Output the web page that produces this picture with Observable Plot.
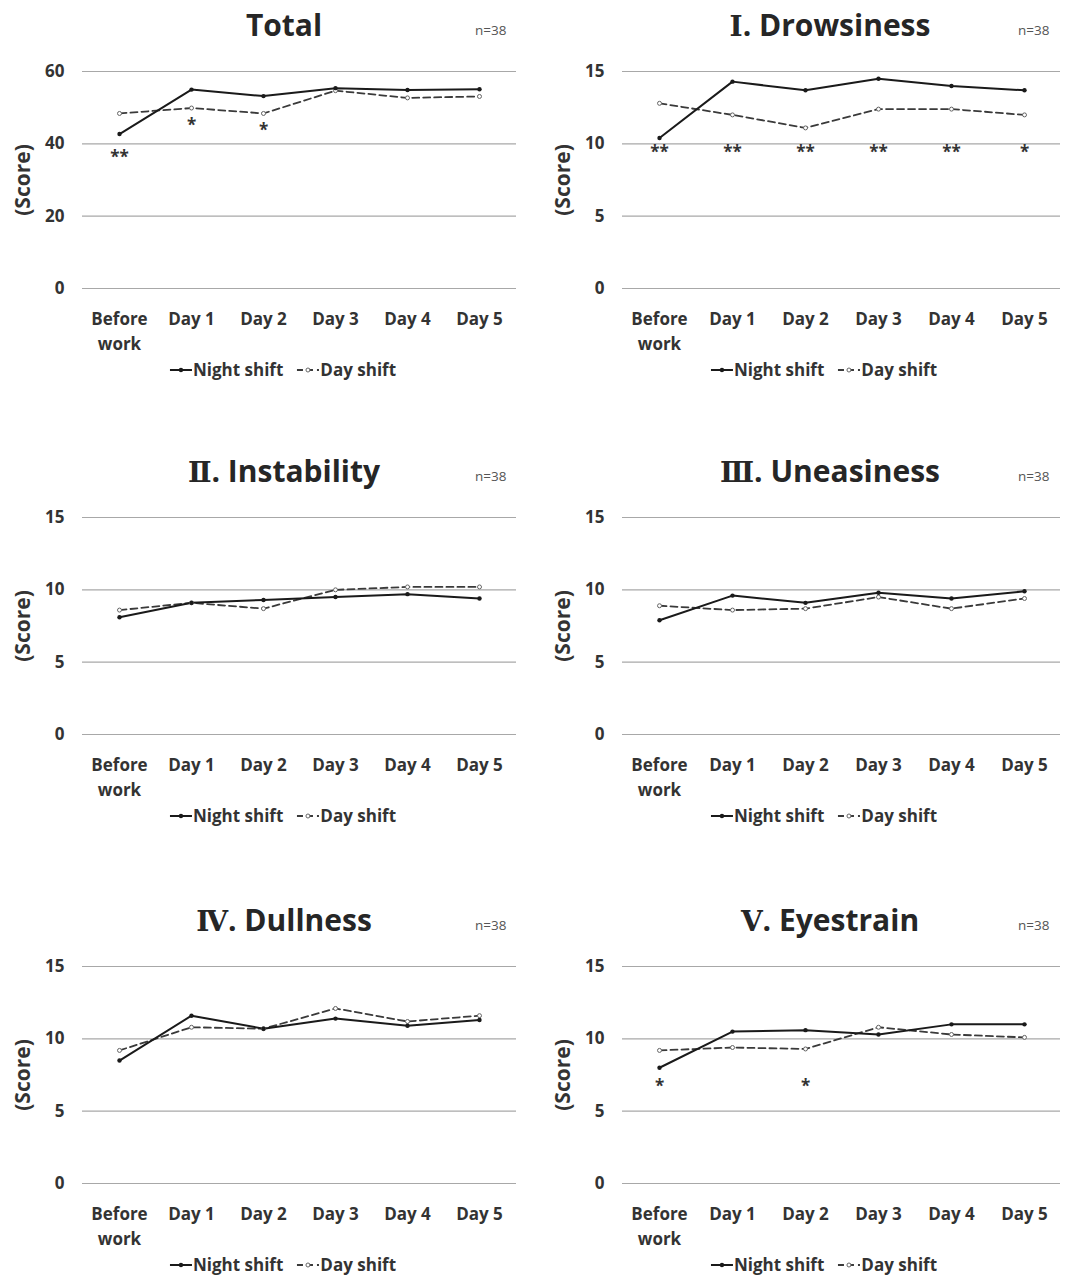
<!DOCTYPE html>
<html>
<head>
<meta charset="utf-8">
<script src="https://cdn.jsdelivr.net/npm/d3@7"></script>
<script src="https://cdn.jsdelivr.net/npm/@observablehq/plot@0.6"></script>
<style>
  body { margin: 0; background: #fff; font-family: "Open Sans", "Noto Sans CJK JP", sans-serif; }
  #root { position: relative; width: 1068px; height: 1277px; overflow: hidden; background: #fff; }
  .cell { position: absolute; width: 534px; height: 448px; }
  .cell svg { position: absolute; left: 0; top: 0; overflow: visible; }
  .title { position: absolute; top: 0; line-height: 50px; font-size: 30px; font-weight: 700; color: #262626;
           transform: translateX(-50%); white-space: nowrap; }
  .title .num { font-family: "DejaVu Serif", "Liberation Serif", serif; font-weight: 700; font-size: 28px; }
  .nlab { position: absolute; top: 21px; font-size: 13.5px; color: #555; line-height: 18px; }
  .legend { position: absolute; top: 360px; transform: translateX(-50%); display: flex; align-items: center;
            gap: 14px; font-size: 17px; font-weight: 700; color: #333; white-space: nowrap; line-height: 20px; }
  .legend span.item { display: flex; align-items: center; gap: 1px; }
</style>
</head>
<body>
<div id="root"></div>
<script>
const days = ["Before work", "Day 1", "Day 2", "Day 3", "Day 4", "Day 5"];
const titles = ["Total", "Ⅰ. Drowsiness", "Ⅱ. Instability", "Ⅲ. Uneasiness", "Ⅳ. Dullness", "Ⅴ. Eyestrain"];
const seriesNames = ["Night shift", "Day shift"];
const nLabel = "n=38";
const yLabel = "(Score)";

const nightTotal = [42.7, 55.0, 53.2, 55.4, 54.9, 55.1];
const dayTotal = [48.4, 49.9, 48.4, 54.7, 52.7, 53.1];
const nightDrowsiness = [10.4, 14.3, 13.7, 14.5, 14.0, 13.7];
const dayDrowsiness = [12.8, 12.0, 11.1, 12.4, 12.4, 12.0];
const nightInstability = [8.1, 9.1, 9.3, 9.5, 9.7, 9.4];
const dayInstability = [8.6, 9.1, 8.7, 10.0, 10.2, 10.2];
const nightUneasiness = [7.9, 9.6, 9.1, 9.8, 9.4, 9.9];
const dayUneasiness = [8.9, 8.6, 8.7, 9.5, 8.7, 9.4];
const nightDullness = [8.5, 11.6, 10.7, 11.4, 10.9, 11.3];
const dayDullness = [9.2, 10.8, 10.7, 12.1, 11.2, 11.6];
const nightEyestrain = [8.0, 10.5, 10.6, 10.3, 11.0, 11.0];
const dayEyestrain = [9.2, 9.4, 9.3, 10.8, 10.3, 10.1];

const yTicksTotal = [0, 20, 40, 60];
const yTicksSub = [0, 5, 10, 15];

// significance marks: [day, label, score level]
const starsTotal = [["Before work", "**", 37], ["Day 1", "*", 46], ["Day 2", "*", 44.6]];
const starsDrowsiness = [["Before work", "**", 9.6], ["Day 1", "**", 9.6], ["Day 2", "**", 9.6],
                         ["Day 3", "**", 9.6], ["Day 4", "**", 9.6], ["Day 5", "*", 9.6]];
const starsEyestrain = [["Before work", "*", 6.9], ["Day 2", "*", 6.9]];

const panels = [
  {title: titles[0], night: nightTotal, day: dayTotal, ticks: yTicksTotal, stars: starsTotal},
  {title: titles[1], night: nightDrowsiness, day: dayDrowsiness, ticks: yTicksSub, stars: starsDrowsiness},
  {title: titles[2], night: nightInstability, day: dayInstability, ticks: yTicksSub, stars: []},
  {title: titles[3], night: nightUneasiness, day: dayUneasiness, ticks: yTicksSub, stars: []},
  {title: titles[4], night: nightDullness, day: dayDullness, ticks: yTicksSub, stars: []},
  {title: titles[5], night: nightEyestrain, day: dayEyestrain, ticks: yTicksSub, stars: starsEyestrain}
];

const rowTops = [0, 446, 895];
const root = document.getElementById("root");

panels.forEach((p, i) => {
  const col = i % 2, row = Math.floor(i / 2);
  const cell = document.createElement("div");
  cell.className = "cell";
  cell.style.left = (col * 534) + "px";
  cell.style.top = rowTops[row] + "px";
  root.appendChild(cell);

  const nightRows = days.map((d, k) => ({day: d, v: p.night[k]}));
  const dayRows = days.map((d, k) => ({day: d, v: p.day[k]}));
  const mL = col === 0 ? 82 : 88;
  const mR = col === 0 ? 18 : 8;

  const svg = Plot.plot({
    width: 534,
    height: 360,
    marginTop: 71,
    marginBottom: 72,
    marginLeft: mL,
    marginRight: mR,
    style: {fontFamily: '"Open Sans", "Noto Sans CJK JP", sans-serif', color: "#333", background: "transparent", overflow: "visible"},
    x: {type: "point", domain: days, padding: 0.5},
    y: {domain: [0, p.ticks[p.ticks.length - 1]]},
    marks: [
      Plot.ruleY(p.ticks, {stroke: "#a8a8a8", strokeWidth: 1.2}),
      Plot.axisY(p.ticks, {tickSize: 0, tickPadding: 18, fontSize: 17, fontWeight: 700, label: null}),
      Plot.axisX({tickSize: 0, tickPadding: 19, fontSize: 17, fontWeight: 700, lineHeight: 1.45, label: null,
                  tickFormat: d => d === "Before work" ? "Before\nwork" : d}),
      Plot.line(dayRows, {x: "day", y: "v", stroke: "#3a3a3a", strokeWidth: 1.8, strokeDasharray: "7,4"}),
      Plot.line(nightRows, {x: "day", y: "v", stroke: "#1a1a1a", strokeWidth: 2}),
      Plot.dot(dayRows, {x: "day", y: "v", r: 2, fill: "white", stroke: "#666", strokeWidth: 1}),
      Plot.dot(nightRows, {x: "day", y: "v", r: 2.2, fill: "#1a1a1a"}),
      Plot.text(p.stars, {x: d => d[0], y: d => d[2], text: d => d[1], fontSize: 17, fontWeight: 700, fill: "#333", dy: 3}),
      Plot.text([yLabel], {text: d => d, frameAnchor: "left", textAnchor: "middle", dx: -59, rotate: -90,
                           fontSize: 21, fontWeight: 700, fill: "#333"})
    ]
  });
  cell.appendChild(svg);

  const t = document.createElement("div");
  t.className = "title";
  const m = p.title.match(/^([\u2160-\u216B])(.*)$/);
  if (m) {
    const s = document.createElement("span");
    s.className = "num";
    s.textContent = m[1];
    t.appendChild(s);
    t.appendChild(document.createTextNode(m[2]));
  } else {
    t.textContent = p.title;
  }
  t.style.left = (col === 0 ? 284 : 296) + "px";
  cell.appendChild(t);

  const n = document.createElement("div");
  n.className = "nlab";
  n.textContent = nLabel;
  n.style.left = (col === 0 ? 475 : 484) + "px";
  cell.appendChild(n);

  const lg = document.createElement("div");
  lg.className = "legend";
  lg.style.left = (col === 0 ? 283 : 290) + "px";
  lg.innerHTML =
    `<span class="item"><svg width="22" height="10" style="position:static"><line x1="0" y1="5" x2="22" y2="5" stroke="#1a1a1a" stroke-width="2"/><circle cx="11" cy="5" r="2.2" fill="#1a1a1a"/></svg>${seriesNames[0]}</span>` +
    `<span class="item"><svg width="22" height="10" style="position:static"><line x1="0" y1="5" x2="22" y2="5" stroke="#3a3a3a" stroke-width="1.8" stroke-dasharray="6,4"/><circle cx="11" cy="5" r="2" fill="white" stroke="#666"/></svg>${seriesNames[1]}</span>`;
  cell.appendChild(lg);
});
</script>
</body>
</html>
